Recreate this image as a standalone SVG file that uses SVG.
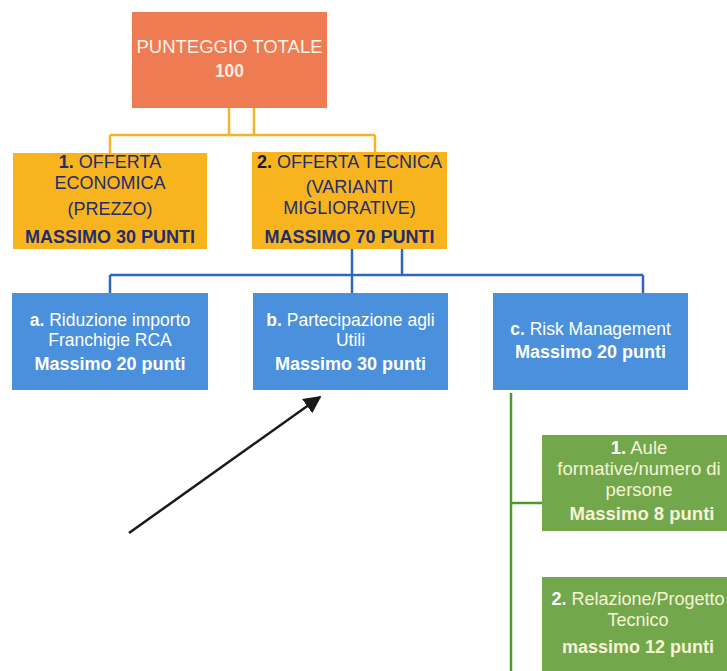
<svg xmlns="http://www.w3.org/2000/svg" width="727" height="671" viewBox="0 0 727 671">
<defs>
<style>
text{font-family:"Liberation Sans",Arial,sans-serif;text-anchor:middle}
.org{fill:#EE7B52}
.yel{fill:#F8B41E}
.blu{fill:#4A90DC}
.grn{fill:#72A84B}
.ty{fill:#232D6E;font-size:18px}
.tw{fill:#FFFFFF;font-size:17.5px}
.tw.b{font-size:18px}
.tg{fill:#F6F3D6;font-size:18.5px}
.tg2{fill:#F6F3D6;font-size:18px}
.b{font-weight:bold}
.cy{stroke:#F2B52A;stroke-width:2.5;fill:none}
.cb{stroke:#2F68B8;stroke-width:2.5;fill:none}
.cg{stroke:#4C9A2E;stroke-width:2.5;fill:none}
</style>
<marker id="ah" viewBox="0 0 10 10" refX="9" refY="5" markerWidth="7" markerHeight="7" orient="auto" markerUnits="strokeWidth">
<path d="M0,0 L10,5 L0,10 z" fill="#1A1A1A"/>
</marker>
</defs>
<rect width="727" height="671" fill="#FFFFFF"/>
<g id="connectors">
<path class="cy" d="M229,108 V135 M254,108 V135 M110,135 H375 M110,135 V153 M375,135 V152"/>
<path class="cb" d="M352,249 V294 M402,249 V275 M110,275 H643 M110,275 V294 M643,275 V294"/>
<path class="cg" d="M511,393 V671 M511,503 H542"/>
<line x1="129" y1="533" x2="320" y2="397" stroke="#1A1A1A" stroke-width="2.5" marker-end="url(#ah)"/>
</g>
<g id="total">
<rect class="org" x="132" y="12" width="195" height="96"/>
<text x="229.5" y="53" fill="#FFF4EC" font-size="18.5">PUNTEGGIO TOTALE</text>
<text x="229.5" y="77" fill="#FBEBDD" font-size="17.5" class="b">100</text>
</g>
<g id="economica">
<rect class="yel" x="13" y="153" width="194" height="96"/>
<text class="ty" x="110" y="168"><tspan class="b">1.</tspan> OFFERTA</text>
<text class="ty" x="110" y="189">ECONOMICA</text>
<text class="ty" x="110" y="215">(PREZZO)</text>
<text class="ty b" x="110" y="243">MASSIMO 30 PUNTI</text>
</g>
<g id="tecnica">
<rect class="yel" x="252" y="152" width="195" height="97"/>
<text class="ty" x="349.5" y="168"><tspan class="b" fill="#1A1A2A">2.</tspan> OFFERTA TECNICA</text>
<text class="ty" x="349.5" y="193">(VARIANTI</text>
<text class="ty" x="349.5" y="214">MIGLIORATIVE)</text>
<text class="ty b" x="349.5" y="243">MASSIMO 70 PUNTI</text>
</g>
<g id="rca">
<rect class="blu" x="12" y="293" width="196" height="97"/>
<text class="tw" x="110" y="326"><tspan class="b">a.</tspan> Riduzione importo</text>
<text class="tw" x="110" y="346">Franchigie RCA</text>
<text class="tw b" x="110" y="370">Massimo 20 punti</text>
</g>
<g id="utili">
<rect class="blu" x="253" y="293" width="195" height="97"/>
<text class="tw" x="350.5" y="326"><tspan class="b">b.</tspan> Partecipazione agli</text>
<text class="tw" x="350.5" y="346">Utili</text>
<text class="tw b" x="350.5" y="370">Massimo 30 punti</text>
</g>
<g id="risk">
<rect class="blu" x="493" y="293" width="195" height="97"/>
<text class="tw" x="590.5" y="335"><tspan class="b">c.</tspan> Risk Management</text>
<text class="tw b" x="590.5" y="358">Massimo 20 punti</text>
</g>
<g id="aule">
<rect class="grn" x="542" y="435" width="190" height="96"/>
<text class="tg" x="639" y="454"><tspan class="b" fill="#FFFFFF">1.</tspan>  Aule</text>
<text class="tg" x="639" y="475">formative/numero di</text>
<text class="tg" x="639" y="496">persone</text>
<text class="tg b" x="642" y="520">Massimo 8 punti</text>
</g>
<g id="relazione">
<rect class="grn" x="542" y="577" width="190" height="100"/>
<text class="tg2" x="638" y="605"><tspan class="b" fill="#FFFFFF">2.</tspan> Relazione/Progetto</text>
<text class="tg2" x="638" y="626">Tecnico</text>
<text class="tg2 b" x="638" y="653">massimo 12 punti</text>
</g>
</svg>
